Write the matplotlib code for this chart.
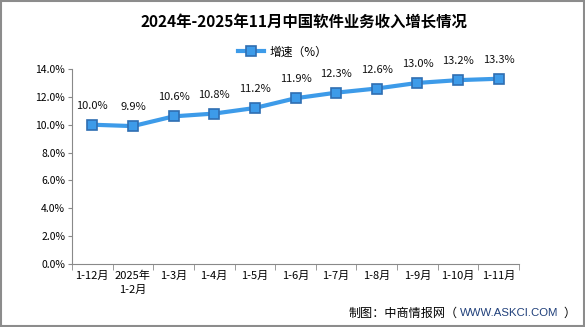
import matplotlib.pyplot as plt
from matplotlib.patches import Rectangle

plt.rcParams['font.family'] = ['Noto Sans CJK SC', 'DejaVu Sans']

# 数据
months = ['1-12月', '2025年\n1-2月', '1-3月', '1-4月', '1-5月', '1-6月',
          '1-7月', '1-8月', '1-9月', '1-10月', '1-11月']
growth = [10.0, 9.9, 10.6, 10.8, 11.2, 11.9, 12.3, 12.6, 13.0, 13.2, 13.3]
y_ticks = [0, 2, 4, 6, 8, 10, 12, 14]

fig = plt.figure(figsize=(5.85, 3.27), dpi=100)
ax = fig.add_axes([72 / 585, 1 - 264 / 327, 447 / 585, 195 / 327])

x = list(range(len(months)))
ax.plot(x, growth, color='#3d9be9', lw=3, marker='s', ms=7.5,
        markerfacecolor='#3d9be9', markeredgecolor='#2f6eb2', mew=1.2,
        label='增速（%）', zorder=3)

for xi, v in zip(x, growth):
    ax.annotate(f'{v:.1f}%', (xi, v), xytext=(0, 10), textcoords='offset points',
                ha='center', va='bottom', fontsize=8, color='#111111')

ax.set_xlim(-0.5, len(months) - 0.5)
ax.set_ylim(0, 14)
ax.set_yticks(y_ticks)
ax.set_yticklabels([f'{t:.1f}%' for t in y_ticks], fontsize=7.5)
ax.set_xticks(x)
ax.set_xticklabels(months, fontsize=8, linespacing=1.5)
ax.set_xticks([i - 0.5 for i in range(len(months) + 1)], minor=True)
ax.tick_params(axis='x', which='major', length=0, pad=5)
ax.tick_params(axis='x', which='minor', length=4, color='#898989', direction='out')
ax.tick_params(axis='y', length=3, color='#898989', pad=2)

for s in ['top', 'right']:
    ax.spines[s].set_visible(False)
for s in ['left', 'bottom']:
    ax.spines[s].set_color('#898989')

fig.text(304 / 585, 1 - 22 / 327, '2024年-2025年11月中国软件业务收入增长情况',
         ha='center', va='center', fontsize=11.1, fontweight='bold')
ax.legend(loc='center', bbox_to_anchor=(283 / 585, 1 - 52 / 327),
          bbox_transform=fig.transFigure, frameon=False, fontsize=8.5,
          handlelength=2.2, handletextpad=0.5)

fig.text(458 / 585, 1 - 313 / 327, '制图：中商情报网（', ha='right', va='center', fontsize=8.7)
fig.text(460 / 585, 1 - 313 / 327, 'WWW.ASKCI.COM', ha='left', va='center',
         fontsize=8.2, color='#1f3f7a', family='Liberation Sans')
fig.text(563 / 585, 1 - 313 / 327, '）', ha='left', va='center', fontsize=8.7)

fig.patches.append(Rectangle((0.001, 0.002), 0.997, 0.996, transform=fig.transFigure,
                             fill=False, edgecolor='#8c8c8c', lw=1.5))

fig.savefig('out.png', dpi=100)
